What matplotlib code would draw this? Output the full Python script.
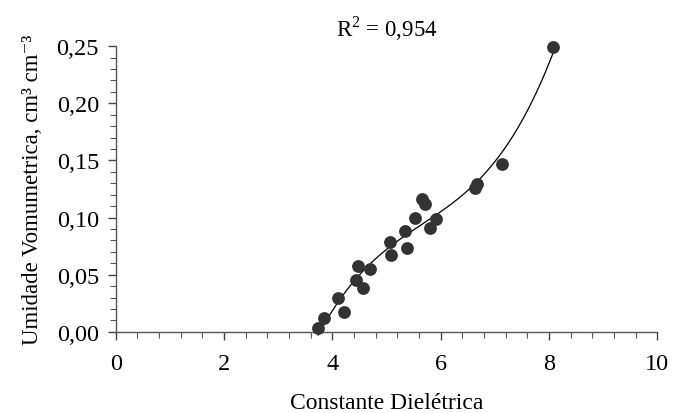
import matplotlib as mpl
mpl.use("Agg")
import matplotlib.pyplot as plt
from matplotlib.ticker import MultipleLocator, FuncFormatter
import numpy as np

# leituras do grafico: constante dieletrica x umidade volumetrica
ka = [3.74, 3.85, 4.10, 4.22, 4.44, 4.48, 4.57, 4.69, 5.06, 5.08, 5.35,
      5.38, 5.53, 5.65, 5.71, 5.80, 5.91, 6.64, 6.68, 7.13, 8.08]
theta = [0.003, 0.012, 0.030, 0.017, 0.045, 0.058, 0.038, 0.055, 0.079, 0.067, 0.088,
         0.073, 0.100, 0.116, 0.112, 0.091, 0.099, 0.126, 0.129, 0.147, 0.249]
r2_text = "R$^2$ = 0,954"

plt.rcParams['font.family'] = ['Liberation Serif', 'DejaVu Serif']
plt.rcParams['mathtext.fontset'] = 'custom'
plt.rcParams['mathtext.rm'] = 'Liberation Serif'

fig = plt.figure(figsize=(6.81, 4.14), dpi=100)
ax = fig.add_axes([0.170, 0.196, 0.795, 0.690])

ax.scatter(ka, theta, s=85, color='#333333', zorder=3, linewidths=0, clip_on=False)

# curva ajustada (polinomio de 3o grau sobre os pontos)
coef = np.polyfit(ka, theta, 3)
xs = np.linspace(min(ka), max(ka), 200)
ax.plot(xs, np.polyval(coef, xs), color='black', lw=0.9, zorder=2, clip_on=False)

ax.set_xlim(0, 10)
ax.set_ylim(0, 0.25)
ax.xaxis.set_major_locator(MultipleLocator(2))
ax.xaxis.set_minor_locator(MultipleLocator(0.4))
ax.yaxis.set_major_locator(MultipleLocator(0.05))
ax.yaxis.set_minor_locator(MultipleLocator(0.01))
ax.yaxis.set_major_formatter(FuncFormatter(lambda v, p: ('%.2f' % v).replace('.', ',')))

for s in ['top', 'right']:
  ax.spines[s].set_visible(False)
for s in ['left', 'bottom']:
  ax.spines[s].set_color('#555555')
  ax.spines[s].set_linewidth(1.0)

ax.tick_params(which='major', direction='out', length=6, width=1, color='#444444',
               labelsize=17.5)
ax.tick_params(axis='x', which='major', pad=9)
ax.tick_params(axis='y', which='major', pad=6)
ax.tick_params(which='minor', direction='out', length=4, width=0.8, color='#555555')

ax.set_xlabel('Constante Dielétrica', fontsize=17, labelpad=13)
ax.set_ylabel('Umidade Vomumetrica, cm³ cm⁻³', fontsize=16.5, labelpad=10)
ax.set_title(r2_text, fontsize=16.5, pad=8)

plt.savefig('out.png', dpi=100)
